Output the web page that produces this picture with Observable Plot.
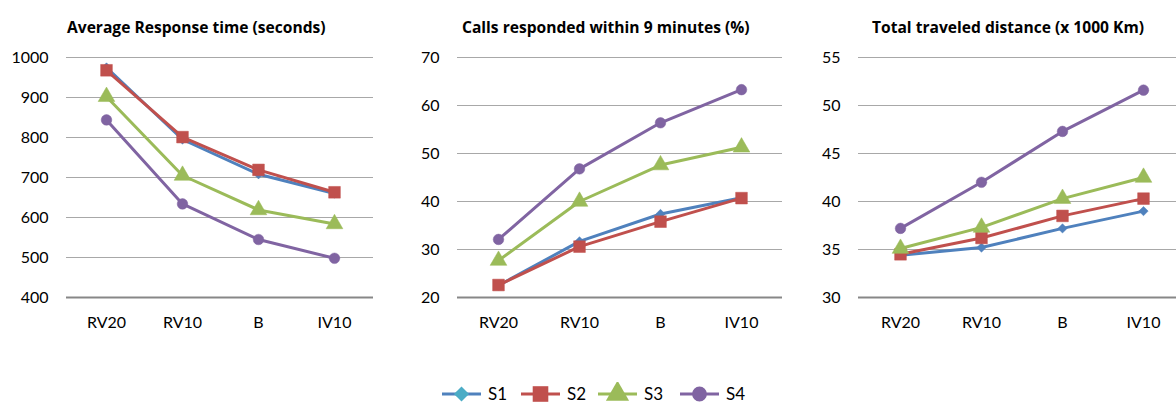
<!DOCTYPE html>
<html>
<head>
<meta charset="utf-8">
<script src="https://cdn.jsdelivr.net/npm/d3@7"></script>
<script src="https://cdn.jsdelivr.net/npm/@observablehq/plot@0.6"></script>
<style>
  html, body { margin: 0; padding: 0; background: #fff; }
  body { width: 1176px; height: 404px; position: relative; overflow: hidden; font-family: Lato, "Open Sans", sans-serif; }
  .panel { position: absolute; top: 0; }
  .title { position: absolute; top: 19px; font-family: "Open Sans", sans-serif; font-weight: bold; font-size: 15.6px; line-height: 16px; white-space: nowrap; color: #000; }
  .chart { position: absolute; top: 40px; left: 0; }
  #legend { position: absolute; top: 382px; left: 0; height: 24px; }
  .litem { position: absolute; top: 0; height: 24px; }
  .litem span { position: absolute; left: 46px; top: 2px; font-size: 17px; line-height: 20px; color: #000; }
</style>
</head>
<body>
<div id="root"></div>
<div id="legend"></div>
<script>
// ---------- data ----------
const categories = ["RV20", "RV10", "B", "IV10"];
const series = ["S1", "S2", "S3", "S4"];
const seriesColors = ["#4f81bd", "#c0504d", "#9bbb59", "#8064a2"];
const legendMarkerColors = ["#4bacc6", "#c0504d", "#9bbb59", "#8064a2"];
const seriesSymbols = ["diamond2", "square", "triangle", "circle"];

const titles = [
  "Average Response time (seconds)",
  "Calls responded within 9 minutes (%)",
  "Total traveled distance (x 1000 Km)"
];

// values per series (S1..S4), per category (RV20, RV10, B, IV10)
const responseTime = [
  [975, 795, 708, 660],
  [968, 801, 719, 663],
  [902, 705, 619, 584],
  [844, 634, 545, 498]
];
const callsWithin9 = [
  [22.5, 31.7, 37.4, 40.8],
  [22.6, 30.6, 35.8, 40.7],
  [27.7, 40.0, 47.6, 51.3],
  [32.1, 46.8, 56.4, 63.3]
];
const travelDistance = [
  [34.4, 35.2, 37.2, 39.0],
  [34.5, 36.2, 38.5, 40.3],
  [35.1, 37.3, 40.3, 42.5],
  [37.2, 42.0, 47.3, 51.6]
];

const ticks1 = [400, 500, 600, 700, 800, 900, 1000];
const ticks2 = [20, 30, 40, 50, 60, 70];
const ticks3 = [30, 35, 40, 45, 50, 55];

// ---------- layout ----------
const panels = [
  {left: 0,   titleLeft: 67,  width: 400, marginLeft: 66, marginRight: 27, plotWidth: 307, values: responseTime,   ticks: ticks1},
  {left: 400, titleLeft: 62,  width: 400, marginLeft: 57, marginRight: 18, plotWidth: 325, values: callsWithin9,   ticks: ticks2},
  {left: 790, titleLeft: 82,  width: 386, marginLeft: 68, marginRight: 0,  plotWidth: 327, values: travelDistance, ticks: ticks3}
];
const markerR = {S1: 4.2, S2: 6.6, S3: 6.2, S4: 5.3};
const legendR = {S1: 6.8, S2: 8.8, S3: 8.6, S4: 7.4};

const root = document.getElementById("root");
panels.forEach((p, i) => {
  const div = document.createElement("div");
  div.className = "panel";
  div.style.left = p.left + "px";
  div.style.width = p.width + "px";
  div.style.height = "380px";
  const t = document.createElement("div");
  t.className = "title";
  t.style.left = p.titleLeft + "px";
  t.textContent = titles[i];
  div.appendChild(t);

  const rows = [];
  series.forEach((s, si) => categories.forEach((c, ci) => rows.push({series: s, cat: c, v: p.values[si][ci]})));
  const ymin = p.ticks[0], ymax = p.ticks[p.ticks.length - 1];

  const marks = [
    Plot.ruleY(p.ticks.slice(1), {stroke: "#a8a8a8", strokeWidth: 1}),
    Plot.ruleY([ymin], {stroke: "#878787", strokeWidth: 2}),
    Plot.axisY({ticks: p.ticks, tickSize: 0, tickPadding: 18, tickFormat: d => String(d), fontSize: 16, fill: "#000"}),
    Plot.axisX({tickSize: 0, tickPadding: 19, fontSize: 16, fill: "#000"})
  ];
  series.forEach((s, si) => {
    const d = rows.filter(r => r.series === s);
    marks.push(Plot.line(d, {x: "cat", y: "v", stroke: seriesColors[si], strokeWidth: 3}));
  });
  series.forEach((s, si) => {
    const d = rows.filter(r => r.series === s);
    marks.push(Plot.dot(d, {x: "cat", y: "v", symbol: seriesSymbols[si], r: markerR[s], fill: seriesColors[si], stroke: seriesColors[si], strokeWidth: 0.5}));
  });

  const chart = Plot.plot({
    width: p.width,
    height: 300,
    marginTop: 17,
    marginBottom: 43,
    marginLeft: p.marginLeft,
    marginRight: p.marginRight,
    style: {fontFamily: "Lato, 'Open Sans', sans-serif", fontSize: "16px", color: "#000", background: "transparent", overflow: "hidden"},
    x: {type: "point", domain: categories, padding: 0.5, range: [p.marginLeft, p.marginLeft + p.plotWidth], label: null},
    y: {domain: [ymin, ymax], label: null},
    marks
  });
  chart.classList.add("chart");
  div.appendChild(chart);
  root.appendChild(div);
});

// ---------- legend ----------
const legend = document.getElementById("legend");
const legendX = [442, 521, 598, 680];
series.forEach((s, si) => {
  const item = document.createElement("div");
  item.className = "litem";
  item.style.left = legendX[si] + "px";
  const svg = d3.create("svg").attr("width", 42).attr("height", 24).style("position", "absolute").style("left", "0px").style("top", "0px");
  svg.append("line").attr("x1", 0).attr("x2", 39).attr("y1", 12).attr("y2", 12)
    .attr("stroke", seriesColors[si]).attr("stroke-width", 3);
  const symMap = {diamond2: d3.symbolDiamond2, square: d3.symbolSquare, triangle: d3.symbolTriangle, circle: d3.symbolCircle};
  const rr = legendR[s];
  svg.append("path").attr("transform", "translate(19.5,12)")
    .attr("d", d3.symbol(symMap[seriesSymbols[si]], Math.PI * rr * rr)())
    .attr("fill", legendMarkerColors[si]);
  item.appendChild(svg.node());
  const sp = document.createElement("span");
  sp.textContent = s;
  item.appendChild(sp);
  legend.appendChild(item);
});
</script>
</body>
</html>
